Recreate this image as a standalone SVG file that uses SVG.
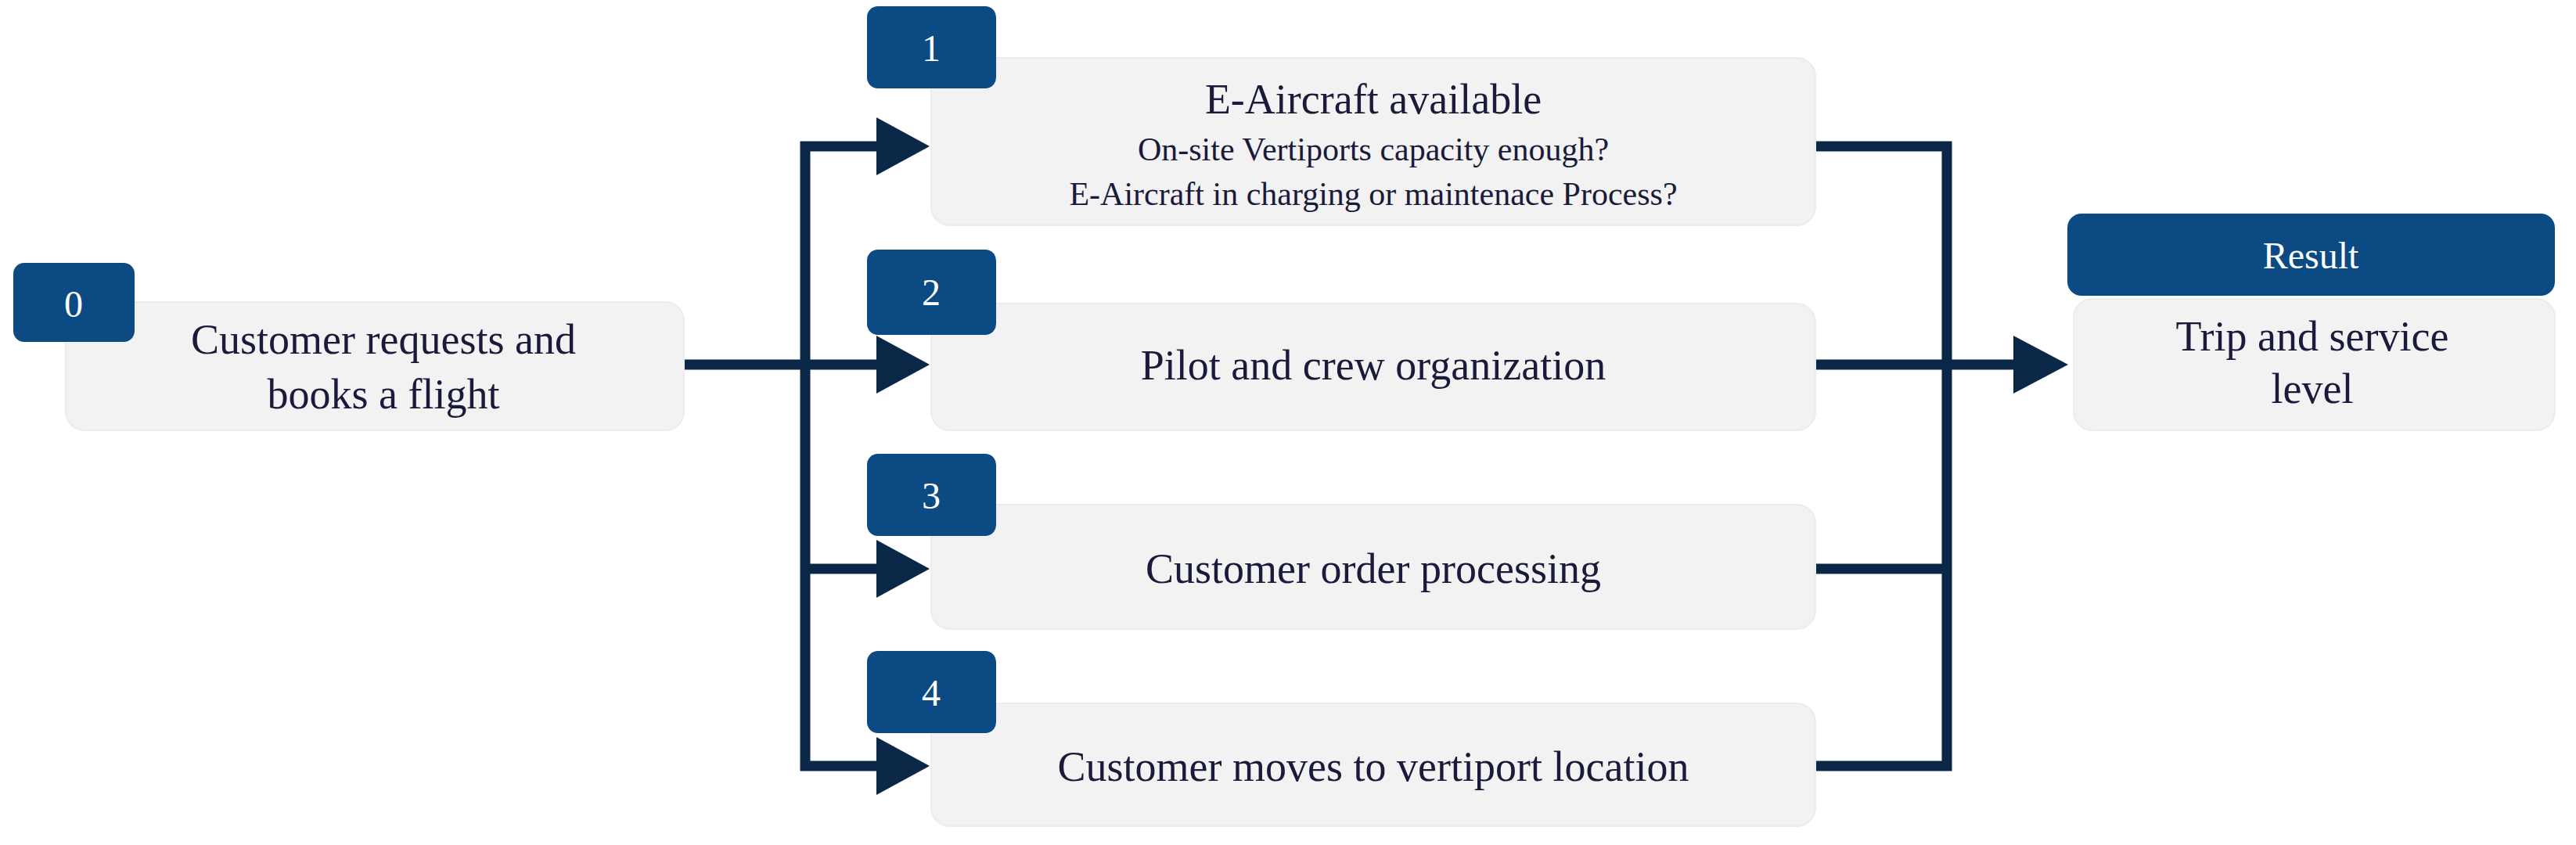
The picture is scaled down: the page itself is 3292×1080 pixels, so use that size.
<svg xmlns="http://www.w3.org/2000/svg" width="3292" height="1080" viewBox="0 0 3292 1080">
<style>
.box{fill:#f2f2f2;stroke:#ececec;stroke-width:2}
.badge{fill:#0b4a82}
.bt{font-family:"Liberation Serif",serif;font-size:48px;fill:#fff;text-anchor:middle}
.t{font-family:"Liberation Serif",serif;font-size:54px;fill:#1a1a3a;text-anchor:middle}
.s{font-family:"Liberation Serif",serif;font-size:42px;fill:#1a1a3a;text-anchor:middle}
.ln{stroke:#0a2747;stroke-width:13;fill:none}
.ah{fill:#0a2747}
</style>
<rect width="3292" height="1080" fill="#fff"/>
<g id="connectors">
<path class="ln" d="M872 466H1125"/>
<path class="ln" d="M1125 187H1029V979H1125M1029 727H1125"/>
<polygon class="ah" points="1120,150 1188,187 1120,224"/>
<polygon class="ah" points="1120,429 1188,466 1120,503"/>
<polygon class="ah" points="1120,690 1188,727 1120,764"/>
<polygon class="ah" points="1120,942 1188,979 1120,1016"/>
<path class="ln" d="M2320 187H2488V979H2320M2320 727H2488M2320 466H2580"/>
<polygon class="ah" points="2573,429 2643,466 2573,503"/>
</g>
<g id="n0"><rect class="box" x="84" y="386" width="790" height="164" rx="24"/>
<rect class="badge" x="17" y="336" width="155" height="101" rx="14"/><text class="bt" x="94" y="405">0</text>
<text class="t" x="490" y="452">Customer requests and</text><text class="t" x="490" y="522">books a flight</text></g>
<g id="n1"><rect class="box" x="1190" y="74" width="1130" height="214" rx="24"/>
<rect class="badge" x="1108" y="8" width="165" height="105" rx="14"/><text class="bt" x="1190" y="78">1</text>
<text class="t" x="1755" y="145">E-Aircraft available</text>
<text class="s" x="1755" y="205">On-site Vertiports capacity enough?</text>
<text class="s" x="1755" y="262">E-Aircraft in charging or maintenace Process?</text></g>
<g id="n2"><rect class="box" x="1190" y="388" width="1130" height="162" rx="24"/>
<rect class="badge" x="1108" y="319" width="165" height="109" rx="14"/><text class="bt" x="1190" y="390">2</text>
<text class="t" x="1755" y="485">Pilot and crew organization</text></g>
<g id="n3"><rect class="box" x="1190" y="645" width="1130" height="159" rx="24"/>
<rect class="badge" x="1108" y="580" width="165" height="105" rx="14"/><text class="bt" x="1190" y="650">3</text>
<text class="t" x="1755" y="745">Customer order processing</text></g>
<g id="n4"><rect class="box" x="1190" y="899" width="1130" height="157" rx="24"/>
<rect class="badge" x="1108" y="832" width="165" height="105" rx="14"/><text class="bt" x="1190" y="902">4</text>
<text class="t" x="1755" y="998">Customer moves to vertiport location</text></g>
<g id="result"><rect class="box" x="2650" y="382" width="615" height="168" rx="24"/>
<rect class="badge" x="2642" y="273" width="623" height="105" rx="18"/><text class="bt" x="2953" y="343">Result</text>
<text class="t" x="2955" y="448">Trip and service</text><text class="t" x="2955" y="515">level</text></g>
</svg>
